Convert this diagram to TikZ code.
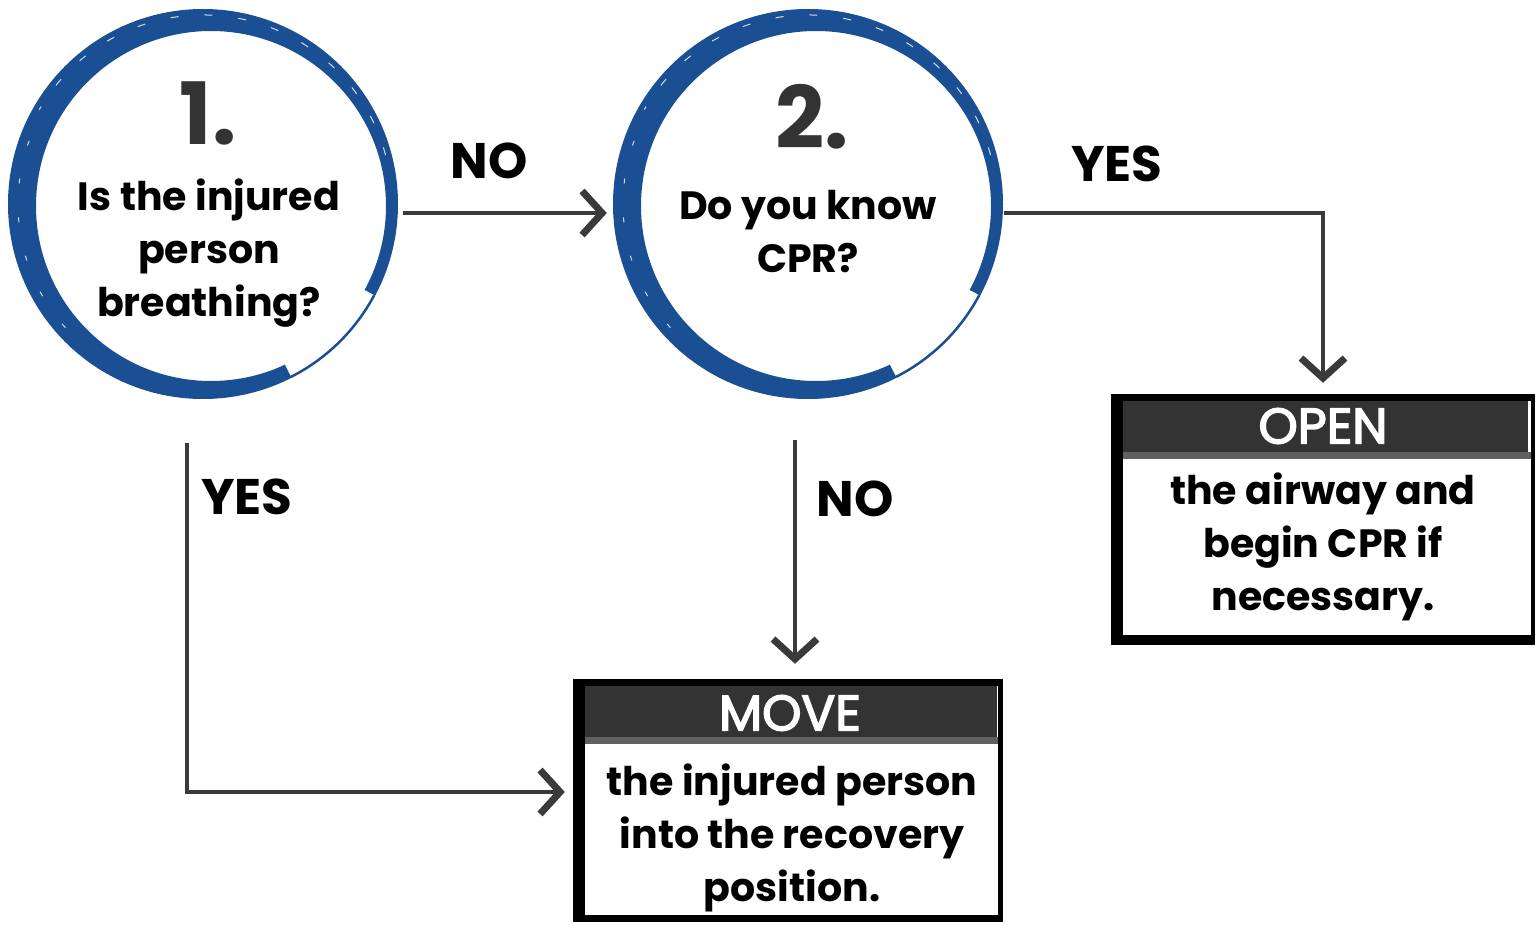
\documentclass[tikz,border=0pt]{standalone}
\usepackage{fontspec}
\setmainfont{Poppins}
\newfontfamily\hdrfont{Poppins}[FakeBold=3]
\usetikzlibrary{arrows.meta}
\definecolor{ringblue}{HTML}{1B4F94}
\definecolor{hdr}{HTML}{333333}
\definecolor{conncol}{HTML}{3A3A3A}
\definecolor{numcol}{HTML}{333333}
\tikzset{
  conn/.style={draw=conncol, line width=4pt, line join=miter,
    -{Straight Barb[length=20pt,width=44pt,line width=7pt]}},
  lbl/.style={font=\bfseries\fontsize{50}{50}\selectfont, text=black, inner sep=0pt},
  qtext/.style={font=\bfseries\fontsize{39.5}{53}\selectfont, align=center, inner sep=0pt},
  numtext/.style={font=\bfseries\fontsize{86}{86}\selectfont, text=numcol, inner sep=0pt},
  hdrtext/.style={font=\hdrfont\fontsize{50}{50}\selectfont, text=white, inner sep=0pt},
  holder/.style={circle, minimum size=396pt, inner sep=0pt},
  boxholder/.style={rectangle, inner sep=0pt},
}
\newcommand{\brushring}[1]{%
  \begin{scope}
    \clip (#1.center) -- ++(-28:260) arc[start angle=-28, end angle=297, radius=260] -- cycle;
    \fill[ringblue, even odd rule] (#1.center) circle[radius=195pt] ([xshift=8pt,yshift=-2pt]#1.center) circle[radius=175pt];
    \draw[white!80!ringblue, line width=1pt, dash pattern=on 8pt off 26pt] ([shift={(15:189pt)}]#1.center) arc[start angle=15, end angle=150, radius=189pt];
    \draw[white!80!ringblue, line width=1pt, dash pattern=on 5pt off 34pt] ([shift={(160:185pt)}]#1.center) arc[start angle=160, end angle=230, radius=185pt];
  \end{scope}
  \draw[ringblue, line width=2.5pt] ([shift={(-63:194pt)}]#1.center) arc[start angle=-63, end angle=-28, radius=194pt];
}
\begin{document}
\begin{tikzpicture}[x=1pt,y=1pt]
\useasboundingbox (0,0) rectangle (1537,-926);

% circles
\node[holder] (c1) at (203,-204) {};
\node[holder] (c2) at (808,-204) {};
\brushring{c1}
\brushring{c2}

\node[numtext] (n1) at (208,-113) {1.};
\node[qtext] (q1) at (209,-253) {Is the injured\\person\\breathing?};
\node[numtext] (n2) at (812,-117) {2.};
\node[qtext] (q2) at (808,-232) {Do you know\\CPR?};

% boxes
\node[boxholder, minimum width=424pt, minimum height=250pt] (open) at (1323,-520) {};
\node[boxholder, minimum width=430pt, minimum height=242pt] (move) at (788,-801) {};

% OPEN box
\fill[hdr] ([xshift=10pt,yshift=-5pt]open.north west) rectangle ([xshift=-7pt,yshift=-57pt]open.north east);
\draw[gray!75!black, line width=7pt] ([xshift=10pt,yshift=-61pt]open.north west) -- ([xshift=-4pt,yshift=-61pt]open.north east);
\draw[black, line width=12pt] ([xshift=6pt,yshift=-2pt]open.north west) -- ([xshift=6pt,yshift=4pt]open.south west);
\draw[black, line width=7pt] ([yshift=-3pt]open.north west) -- ([yshift=-3pt]open.north east);
\draw[black, line width=10pt] ([yshift=5pt]open.south west) -- ([yshift=5pt]open.south east);
\draw[black, line width=4pt] ([xshift=-2pt]open.north east) -- ([xshift=-2pt]open.south east);
\node[hdrtext] (openh) at (1323,-426) {OPEN};
\node[qtext] (opent) at (1323,-547) {the airway and\\begin CPR if\\necessary.};

% MOVE box
\fill[hdr] ([xshift=10pt,yshift=-6pt]move.north west) rectangle ([xshift=-6pt,yshift=-57pt]move.north east);
\draw[gray!75!black, line width=7pt] ([xshift=10pt,yshift=-61pt]move.north west) -- ([xshift=-4pt,yshift=-61pt]move.north east);
\draw[black, line width=12pt] ([xshift=6pt,yshift=-2pt]move.north west) -- ([xshift=6pt]move.south west);
\draw[black, line width=7pt] ([yshift=-3pt]move.north west) -- ([yshift=-3pt]move.north east);
\draw[black, line width=7pt] ([yshift=4pt]move.south west) -- ([yshift=4pt]move.south east);
\draw[black, line width=5pt] ([xshift=-3pt]move.north east) -- ([xshift=-3pt]move.south east);
\node[hdrtext] (moveh) at (790,-713) {MOVE};
\node[qtext] (movet) at (792,-838) {the injured person\\into the recovery\\position.};

% connectors
\coordinate (y1) at (187,-443);
\coordinate (n2s) at (795,-440);
\coordinate (mtop) at ([yshift=16pt]move.north);
\draw[conn] ([xshift=2pt,yshift=-9pt]c1.east) -- ([xshift=-3pt,yshift=-9pt]c2.west);
\draw[conn] ([xshift=-2pt,yshift=-9pt]c2.east) -| ([yshift=12pt]open.north);
\draw[conn] (n2s) -- (n2s |- mtop);
\draw[conn] (y1) |- ([xshift=-8pt,yshift=9pt]move.west);

% labels
\node[lbl] (lno1) at (489,-161) {NO};
\node[lbl] (lyes1) at (1117,-164) {YES};
\node[lbl] (lyes2) at (247,-497) {YES};
\node[lbl] (lno2) at (855,-499) {NO};
\end{tikzpicture}
\end{document}
